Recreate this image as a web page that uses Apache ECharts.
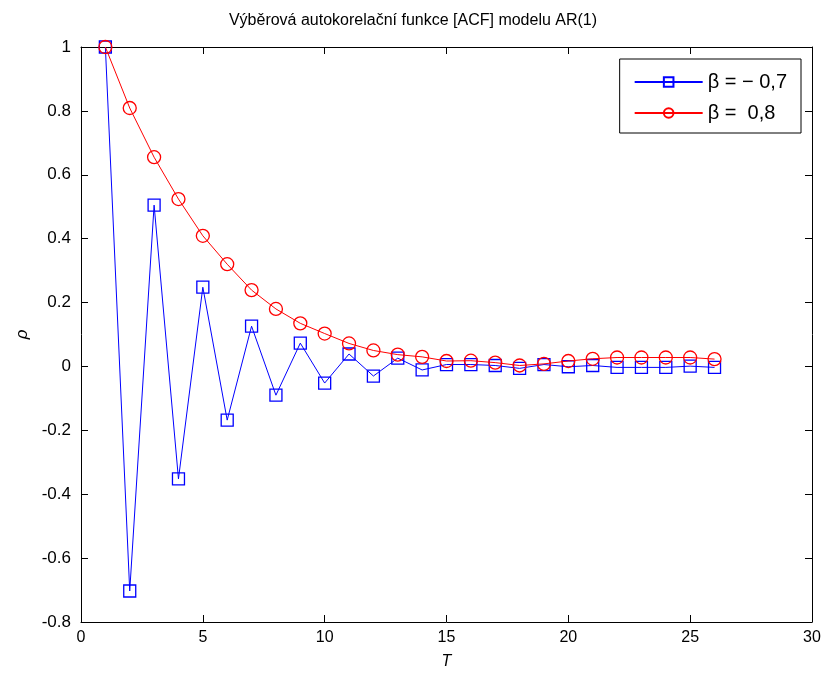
<!DOCTYPE html>
<html>
<head>
<meta charset="utf-8">
<script src="https://cdn.jsdelivr.net/npm/echarts@6/dist/echarts.min.js"></script>
<style>
  html, body { margin: 0; padding: 0; background: #fff; }
  #chart { width: 826px; height: 678px; }
</style>
</head>
<body>
<div id="chart"></div>
<script>
// lag T
const lags = [1, 2, 3, 4, 5, 6, 7, 8, 9, 10, 11, 12, 13, 14, 15, 16, 17, 18, 19, 20, 21, 22, 23, 24, 25, 26]
// beta = -0.7
const acfNeg = [1, -0.703, 0.505, -0.352, 0.248, -0.168, 0.126, -0.09, 0.073, -0.052, 0.039, -0.03, 0.026,
  -0.011, 0.006, 0.006, 0.003, -0.006, 0.006, -0.001, 0.003, -0.003, -0.003, -0.003, 0.001, -0.003]
// beta = 0.8
const acfPos = [1, 0.809, 0.655, 0.524, 0.409, 0.32, 0.239, 0.18, 0.135, 0.103, 0.072, 0.05, 0.037,
  0.03, 0.017, 0.018, 0.012, 0.003, 0.008, 0.017, 0.024, 0.028, 0.028, 0.028, 0.028, 0.023]
const xTicks = [0, 5, 10, 15, 20, 25, 30]
const yTicks = [-0.8, -0.6, -0.4, -0.2, 0, 0.2, 0.4, 0.6, 0.8, 1]

const font = 'Liberation Sans Narrow, Liberation Sans, Arial, sans-serif'
const pairs = arr => lags.map((t, i) => [t, arr[i]])

const axisCommon = {
  axisLine: { show: true, onZero: false, lineStyle: { color: '#000', width: 1 } },
  axisTick: { show: true, inside: true, length: 7, lineStyle: { color: '#000' } },
  splitLine: { show: false }
}

const chart = echarts.init(document.getElementById('chart'))
chart.setOption({
  backgroundColor: '#fff',
  animation: false,
  title: {
    text: 'Výběrová autokorelační funkce [ACF] modelu AR(1)',
    left: 'center',
    top: 8,
    textStyle: { fontFamily: font, fontSize: 16, fontWeight: 'normal', color: '#000' }
  },
  grid: { left: 81, right: 14, top: 47, bottom: 56 },
  legend: {
    orient: 'vertical',
    right: 25,
    top: 59,
    padding: [13, 14, 10, 14],
    itemGap: 11,
    itemWidth: 68,
    itemHeight: 12,
    backgroundColor: '#fff',
    borderColor: '#000',
    borderWidth: 1,
    textStyle: { fontFamily: font, fontSize: 20, color: '#000' },
    data: ['β = \u2212 0,7', 'β =  0,8']
  },
  xAxis: [
    Object.assign({
      type: 'value', min: 0, max: 30, interval: 5,
      name: 'T', nameLocation: 'middle', nameGap: 32,
      nameTextStyle: { fontFamily: font, fontSize: 16, fontStyle: 'italic', color: '#000' },
      axisLabel: { fontFamily: font, fontSize: 16, color: '#000', margin: 8 }
    }, axisCommon),
    Object.assign({
      type: 'value', min: 0, max: 30, interval: 5, position: 'top',
      axisLabel: { show: false }
    }, axisCommon)
  ],
  yAxis: [
    Object.assign({
      type: 'value', min: -0.8, max: 1, interval: 0.2,
      name: 'ρ', nameLocation: 'middle', nameGap: 46, nameRotate: 90,
      nameTextStyle: { fontFamily: font, fontSize: 17, fontStyle: 'italic', color: '#000' },
      axisLabel: {
        fontFamily: font, fontSize: 17, color: '#000', margin: 10,
        formatter: v => yTicks.includes(Math.round(v * 10) / 10) ? String(Math.round(v * 10) / 10) : ''
      }
    }, axisCommon),
    Object.assign({
      type: 'value', min: -0.8, max: 1, interval: 0.2, position: 'right',
      axisLabel: { show: false }
    }, axisCommon)
  ],
  series: [
    {
      name: 'β = \u2212 0,7',
      type: 'line',
      data: pairs(acfNeg),
      symbol: 'rect',
      symbolSize: 12,
      lineStyle: { color: '#0000ff', width: 1 },
      itemStyle: { color: 'rgba(0,0,0,0)', borderColor: '#0000ff', borderWidth: 1.3 },
      z: 2
    },
    {
      name: 'β =  0,8',
      type: 'line',
      data: pairs(acfPos),
      symbol: 'circle',
      symbolSize: 13,
      lineStyle: { color: '#ff0000', width: 1 },
      itemStyle: { color: 'rgba(0,0,0,0)', borderColor: '#ff0000', borderWidth: 1.3 },
      z: 3
    }
  ]
})
</script>
</body>
</html>
